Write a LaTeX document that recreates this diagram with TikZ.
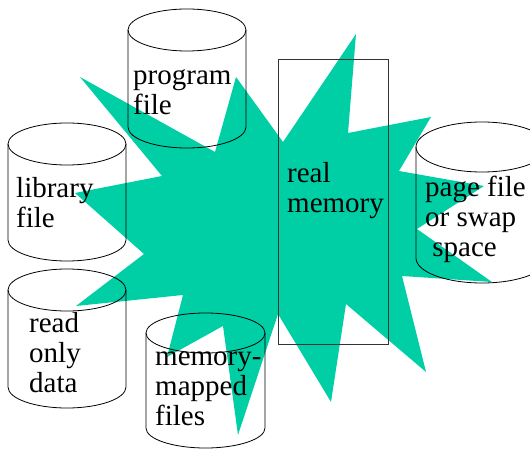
\documentclass[tikz,border=0pt]{standalone}
\usepackage{fontspec}
\setmainfont{Liberation Serif}
\definecolor{splash}{RGB}{0,207,166}
\tikzset{
  tag/.style={anchor=base west, inner sep=0pt, align=left, font=\fontsize{29}{30}\selectfont},
  drum/.style={line width=0.8pt},
}
\begin{document}
\begin{tikzpicture}[x=1pt,y=-1pt]
  \useasboundingbox (0,0) rectangle (530,449);
  % the star
  \fill[splash] (80,77) -- (215,152) -- (236,77) -- (283,142) -- (356,34) -- (348,133)
    -- (431,117) -- (399,171) -- (484,186) -- (417,229) -- (492,282) -- (402,276)
    -- (426,372) -- (346,304) -- (331,402) -- (278,314) -- (238,435) -- (223,326)
    -- (167,357) -- (183,295) -- (76,306) -- (144,254) -- (75,193) -- (162,176) -- cycle;
  % real memory
  \draw[line width=0.9pt, black!80] (278,59) rectangle (388,344);
  % cylinders
  \draw[drum] (187,30) ellipse [x radius=59, y radius=21];
  \draw[drum] (128,30) -- (128,127) arc[start angle=180, end angle=0, x radius=59, y radius=21] -- (246,30);
  \draw[drum] (67,144) ellipse [x radius=59, y radius=21];
  \draw[drum] (8,144) -- (8,240) arc[start angle=180, end angle=0, x radius=59, y radius=21] -- (126,144);
  \draw[drum] (67,290) ellipse [x radius=59, y radius=21];
  \draw[drum] (8,290) -- (8,387) arc[start angle=180, end angle=0, x radius=59, y radius=21] -- (126,290);
  \draw[drum] (205.5,333) ellipse [x radius=59.5, y radius=20];
  \draw[drum] (146,333) -- (146,428) arc[start angle=180, end angle=0, x radius=59.5, y radius=20] -- (265,333);
  \draw[drum] (482,147) ellipse [x radius=66, y radius=25];
  \draw[drum] (416,147) -- (416,258) arc[start angle=180, end angle=0, x radius=66, y radius=25] -- (548,147);
  % labels (anchored on the last line)
  \node[tag] (prog) at (133,115) {program\\file};
  \node[tag] (lib) at (16,228) {library\\file};
  \node[tag] (real) at (287,213) {real\\memory};
  \node[tag] (page) at (425,256) {page file\\or swap\\\hspace*{.25em}space};
  \node[tag] (rodata) at (29,392) {read\\only\\data};
  \node[tag] (mmap) at (155,425) {memory-\\mapped\\files};
\end{tikzpicture}
\end{document}
